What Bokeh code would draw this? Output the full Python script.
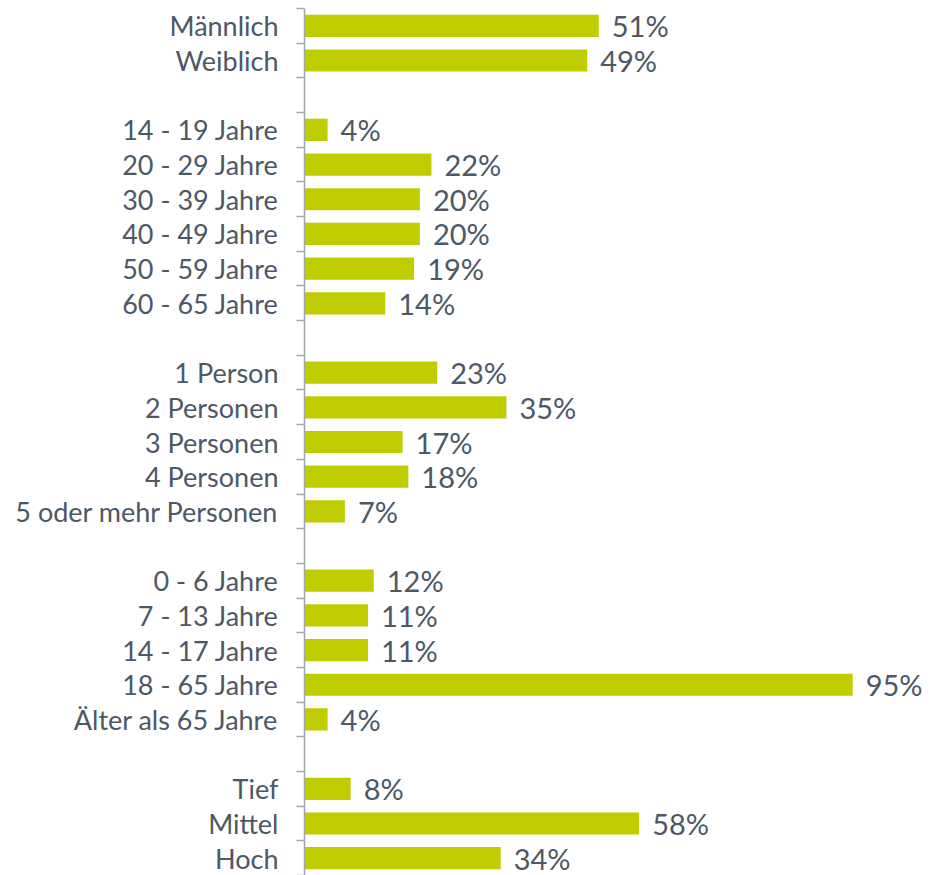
from bokeh.plotting import figure
from bokeh.models import Range1d, FixedTicker, ColumnDataSource
from bokeh.embed import file_html
from bokeh.resources import INLINE
from bokeh.core.properties import value

categories = ["Männlich", "Weiblich", "",
              "14 - 19 Jahre", "20 - 29 Jahre", "30 - 39 Jahre", "40 - 49 Jahre", "50 - 59 Jahre", "60 - 65 Jahre", "",
              "1 Person", "2 Personen", "3 Personen", "4 Personen", "5 oder mehr Personen", "",
              "0 - 6 Jahre", "7 - 13 Jahre", "14 - 17 Jahre", "18 - 65 Jahre", "Älter als 65 Jahre", "",
              "Tief", "Mittel", "Hoch"]
values = [51, 49, None,
          4, 22, 20, 20, 19, 14, None,
          23, 35, 17, 18, 7, None,
          12, 11, 11, 95, 4, None,
          8, 58, 34]

pos = [i for i, v in enumerate(values) if v is not None]
vals = [values[i] for i in pos]
labels = [f"{v}%" for v in vals]

src = ColumnDataSource(data=dict(y=pos, v=vals, lab=labels))

FONT = "Lato"
TXT = "#4d5865"
BAR = "#bfcc00"

p = figure(width=941, height=875, output_backend="svg", toolbar_location=None,
           x_range=Range1d(0, 110.4), y_range=Range1d(len(categories) - 0.5, -0.5),
           min_border_left=304, min_border_top=8, min_border_bottom=0, min_border_right=0)
p.outline_line_color = None
p.xgrid.visible = False
p.ygrid.visible = False
p.xaxis.visible = False

p.hbar(y="y", right="v", left=0, height=0.64, source=src, color=BAR, line_color=None)
p.text(x="v", y="y", text="lab", source=src, x_offset=13, y_offset=0, text_baseline="middle",
       text_align="left", text_font=value(FONT), text_font_size="29px", text_color=TXT)

ax = p.yaxis[0]
ax.ticker = FixedTicker(ticks=pos, minor_ticks=[i - 0.5 for i in range(len(categories) + 1)])
ax.major_label_overrides = {i: categories[i] for i in pos}
ax.major_tick_out = 0
ax.major_tick_in = 0
ax.minor_tick_out = 8
ax.minor_tick_in = 0
ax.minor_tick_line_color = "#a0a6ac"
ax.axis_line_color = "#a0a6ac"
ax.axis_line_width = 1.5
ax.minor_tick_line_width = 1.5
ax.major_label_standoff = 18
ax.major_label_text_font = FONT
ax.major_label_text_font_size = "27px"
ax.major_label_text_color = TXT

open("out.html", "w").write(file_html(p, INLINE))
